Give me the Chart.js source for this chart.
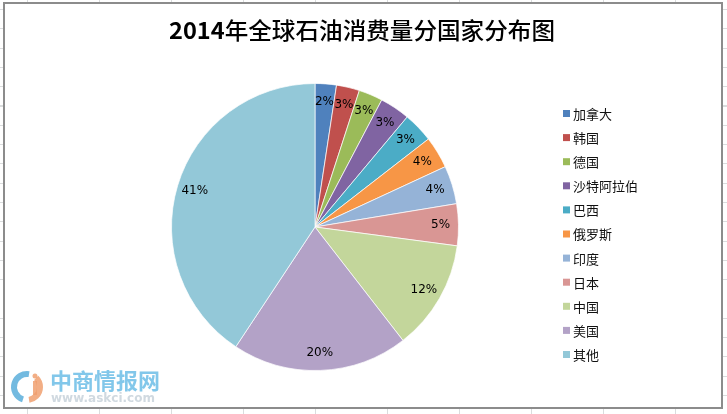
<html>
<head>
<meta charset="UTF-8"/>
<style>
html, body {
 width: 100%;
 height: 100%;
 margin: 0px;
 border: 0;
 overflow: hidden;
 display: block;
 background-color: #ffffff;
 /* excel sheet gridlines behind the chart object */
 background-image:
   repeating-linear-gradient(to right, transparent 0px, transparent 27px, #dadcdd 27px, #dadcdd 28px, transparent 28px, transparent 72px),
   repeating-linear-gradient(to bottom, transparent 0px, transparent 9px, #dadcdd 9px, #dadcdd 10px, transparent 10px, transparent 19.3px);
}
#frame {
 position: absolute;
 left: 3px;
 top: 2px;
 width: 716px;
 height: 403px;
 border: 2px solid #8c8c8c;
 background-color: #ffffff;
}
#myChart {
 position: absolute;
 left: 0px;
 top: 0px;
}
</style>
<script src="https://cdn.jsdelivr.net/npm/chart.js@4.4.1/dist/chart.umd.min.js"></script>
<script type="text/javascript">
var titleYear = '2014';
var titleRest = '年全球石油消费量分国家分布图';
var countries = ['加拿大', '韩国', '德国', '沙特阿拉伯', '巴西', '俄罗斯', '印度', '日本', '中国', '美国', '其他'];
// share of world consumption, %
var shares = [2.4, 2.6, 2.7, 3.4, 3.4, 3.6, 4.3, 4.7, 12.4, 19.8, 40.7];
var sliceColors = ['#4f81bd', '#c0504d', '#9bbb59', '#8064a2', '#4bacc6', '#f79646',
                   '#95b3d7', '#d99694', '#c3d69b', '#b3a2c7', '#93c8d8'];

var myChart;

// title centred over the whole chart object, stretched a bit like the excel one
var wideTitle = {
    id: 'wideTitle',
    afterDraw: function(chart) {
        var ctx = chart.ctx;
        ctx.save();
        ctx.fillStyle = '#000000';
        ctx.textBaseline = 'middle';
        ctx.textAlign = 'left';
        var fYear = 'bold 23px "Noto Sans CJK SC"';
        var fRest = '500 23px "Noto Sans CJK SC"';
        ctx.font = fYear;
        var w1 = ctx.measureText(titleYear).width;
        ctx.font = fRest;
        var w2 = ctx.measureText(titleRest).width;
        var sx = 386 / (w1 + w2);
        ctx.translate(169, 30);
        ctx.scale(sx, 1);
        ctx.font = fYear;
        ctx.fillText(titleYear, 0, 0);
        ctx.font = fRest;
        ctx.fillText(titleRest, w1, 0);
        ctx.restore();
    }
};

// percent labels just inside the rim, like excel "inside end"
var pctLabels = {
    id: 'pctLabels',
    afterDatasetsDraw: function(chart) {
        var ctx = chart.ctx;
        var meta = chart.getDatasetMeta(0);
        var data = chart.data.datasets[0].data;
        var total = data.reduce(function(a, b) { return a + b; }, 0);
        ctx.save();
        ctx.font = '12px "DejaVu Sans"';
        ctx.fillStyle = '#000000';
        ctx.textAlign = 'center';
        ctx.textBaseline = 'middle';
        meta.data.forEach(function(arc, i) {
            var p = arc.getProps(['x', 'y', 'startAngle', 'endAngle', 'outerRadius'], true);
            var mid = (p.startAngle + p.endAngle) / 2;
            var r = p.outerRadius * 0.875;
            var txt = Math.round(data[i] / total * 100) + '%';
            ctx.fillText(txt, p.x + Math.cos(mid) * r, p.y + Math.sin(mid) * r);
        });
        ctx.restore();
    }
};

// legend on the right, one row per country
var sideLegend = {
    id: 'sideLegend',
    afterDraw: function(chart) {
        var ctx = chart.ctx;
        var labels = chart.data.labels;
        var colors = chart.data.datasets[0].backgroundColor;
        ctx.save();
        ctx.font = '13px "Noto Sans CJK SC"';
        ctx.textBaseline = 'middle';
        ctx.textAlign = 'left';
        for (var i = 0; i < labels.length; i++) {
            var y = 114 + i * 24.1;
            ctx.fillStyle = colors[i];
            ctx.fillRect(563, y - 4, 7, 7);
            ctx.fillStyle = '#111111';
            ctx.fillText(labels[i], 573, y);
        }
        ctx.restore();
    }
};

// site watermark bottom left
var watermark = {
    id: 'watermark',
    afterDraw: function(chart) {
        var ctx = chart.ctx;
        ctx.save();
        ctx.globalAlpha = 0.85;
        ctx.lineWidth = 6;
        ctx.strokeStyle = '#5aaedb';
        ctx.beginPath();
        ctx.arc(27, 387, 13, Math.PI * 0.6, Math.PI * 1.55);
        ctx.stroke();
        ctx.strokeStyle = '#f0a070';
        ctx.beginPath();
        ctx.arc(27, 387, 13, Math.PI * 1.75, Math.PI * 0.45);
        ctx.stroke();
        ctx.fillStyle = '#f0a070';
        ctx.fillRect(33, 381, 4, 14);
        ctx.beginPath();
        ctx.arc(35, 376, 2.5, 0, Math.PI * 2);
        ctx.fill();
        ctx.font = 'bold 22px "Noto Sans CJK SC"';
        ctx.fillStyle = '#6cbde6';
        ctx.textBaseline = 'middle';
        ctx.fillText('中商情报网', 50, 381);
        ctx.font = 'bold 12px "DejaVu Sans"';
        ctx.fillStyle = '#c8d2da';
        ctx.fillText('www.askci.com', 51, 399);
        ctx.restore();
    }
};

function init() {
    var ctx = document.getElementById('myChart').getContext('2d');
    myChart = new Chart(ctx, {
        type: 'pie',
        data: {
            labels: countries,
            datasets: [{
                data: shares,
                backgroundColor: sliceColors,
                borderColor: 'rgba(255, 255, 255, 0.7)',
                borderWidth: 1
            }]
        },
        options: {
            responsive: false,
            animation: false,
            layout: {
                padding: { left: 171, right: 268, top: 83, bottom: 43 }
            },
            plugins: {
                legend: { display: false },
                tooltip: { enabled: false },
                title: { display: false }
            }
        },
        plugins: [pctLabels, sideLegend, wideTitle, watermark]
    });
}
</script>
<title>Chart</title>
</head>

<body onload="JavaScript:init();">
<div id="frame"></div>
<canvas id="myChart" width="727" height="414"></canvas>
</body>
</html>
